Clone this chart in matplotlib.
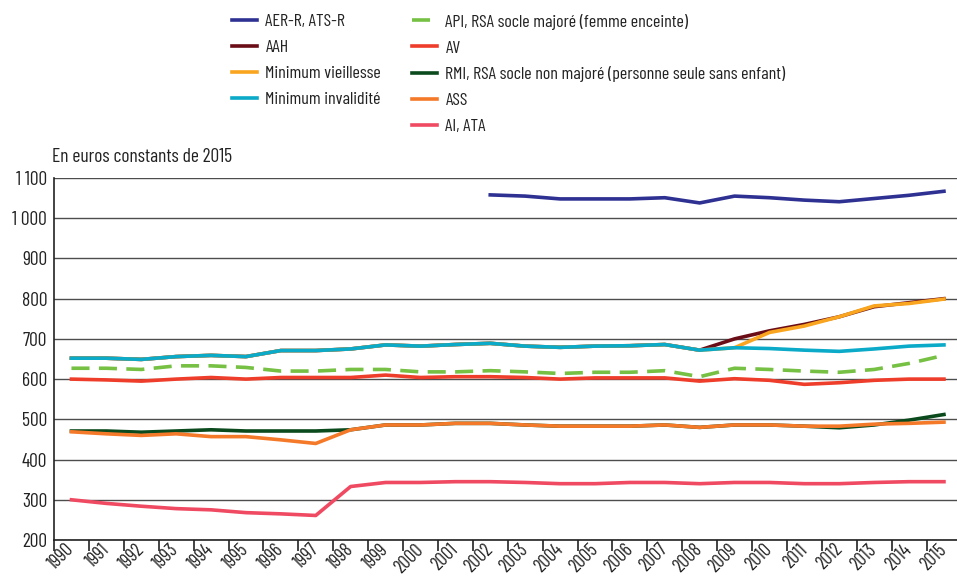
import matplotlib
matplotlib.use('Agg')
import matplotlib.pyplot as plt
from matplotlib.ticker import FixedLocator, FuncFormatter

plt.rcParams['font.family'] = ['Barlow Condensed', 'Roboto Condensed', 'DejaVu Sans']

years = list(range(1990, 2016))
years_aer = list(range(2002, 2016))

aer = [1058, 1055, 1048, 1048, 1048, 1051, 1038, 1055, 1051, 1045, 1041, 1049, 1057, 1067]
min_inv = [652, 652, 649, 656, 659, 656, 671, 671, 675, 685, 682, 686,
           689, 682, 679, 682, 683, 686, 672, 678, 676, 672, 669, 675, 682, 685]
aah = min_inv[:19] + [700, 720, 736, 755, 780, 790, 800]
min_vieil = min_inv[:20] + [716, 732, 755, 782, 788, 799]
api = [627, 627, 624, 633, 633, 629, 620, 620, 624, 624, 618, 618,
       621, 618, 614, 617, 617, 621, 606, 627, 624, 620, 617, 624, 639, 659]
av = [600, 598, 595, 600, 604, 600, 604, 604, 604, 610, 604, 606,
      606, 604, 600, 603, 603, 603, 595, 601, 597, 587, 591, 597, 600, 600]
rmi = [471, 471, 468, 471, 474, 471, 471, 471, 474, 486, 486, 490,
       490, 486, 483, 483, 483, 486, 480, 486, 486, 483, 479, 486, 498, 512]
ass = [469, 464, 460, 464, 457, 457, 449, 440, 474, 486, 486, 490,
       490, 486, 483, 483, 483, 486, 480, 486, 486, 483, 483, 488, 490, 493]
ai = [300, 291, 284, 278, 275, 268, 265, 261, 333, 343, 343, 345,
      345, 343, 340, 340, 343, 343, 340, 343, 343, 340, 340, 343, 345, 345]

fig = plt.figure(figsize=(9.57, 5.77), dpi=100)
ax = fig.add_axes([54 / 957, 1 - 540 / 577, 1 - 54 / 957, (540 - 178) / 577])

xi = list(range(len(years)))
xa = [years.index(y) for y in years_aer]
lw = 2.6
l_aer, = ax.plot(xa, aer, color='#2e3192', lw=lw, label='AER-R, ATS-R')
l_aah, = ax.plot(xi, aah, color='#6b0d16', lw=lw, label='AAH')
l_mv, = ax.plot(xi, min_vieil, color='#f9a51f', lw=lw, label='Minimum vieillesse')
l_mi, = ax.plot(xi, min_inv, color='#0aaac8', lw=lw, label='Minimum invalidité')
l_api, = ax.plot(xi, api, color='#76c043', lw=lw, ls=(0, (5, 2.6)),
                 label='API, RSA socle majoré (femme enceinte)')
l_av, = ax.plot(xi, av, color='#ee3d2a', lw=lw, label='AV')
l_rmi, = ax.plot(xi, rmi, color='#0b4a1c', lw=lw,
                 label='RMI, RSA socle non majoré (personne seule sans enfant)')
l_ass, = ax.plot(xi, ass, color='#f47a2a', lw=lw, label='ASS')
l_ai, = ax.plot(xi, ai, color='#ef4a62', lw=lw, label='AI, ATA')

ax.set_ylim(200, 1100)
ax.set_xlim(-0.5, 903 / 34.9 - 0.5)
ax.set_yticks(range(200, 1101, 100))
ax.yaxis.set_major_formatter(FuncFormatter(lambda v, p: f'{int(v):,}'.replace(',', ' ')))
ax.tick_params(axis='y', length=0, pad=5, labelsize=14, labelcolor='#222222')
ax.grid(axis='y', color='#4d4d4d', lw=1.0)
ax.set_axisbelow(True)

ax.xaxis.set_major_locator(FixedLocator([i - 0.5 for i in range(len(years) + 1)]))
ax.xaxis.set_minor_locator(FixedLocator(xi))
ax.set_xticklabels([], minor=False)
ax.set_xticklabels([str(y) for y in years], minor=True)
ax.tick_params(axis='x', which='major', length=8, width=1.2, color='#222222')
ax.tick_params(axis='x', which='minor', length=0, pad=5, labelsize=13.5, labelcolor='#222222')
for t in ax.get_xticklabels(minor=True):
    t.set_rotation(45)
    t.set_ha('right')
    t.set_va('center')
    t.set_rotation_mode('anchor')

for s in ['top', 'right']:
    ax.spines[s].set_visible(False)
for s in ['left', 'bottom']:
    ax.spines[s].set_color('#222222')
    ax.spines[s].set_linewidth(1.2)

fig.text(52 / 957, 1 - 157 / 577, 'En euros constants de 2015', fontsize=14,
         color='#222222', va='center', ha='left')

# two legend columns placed separately
leg_kw = dict(loc='upper left', frameon=False, fontsize=13, handlelength=1.4,
              handletextpad=0.45, labelspacing=0.58, borderpad=0, borderaxespad=0,
              labelcolor='#222222')
col1 = [l_aer, l_aah, l_mv, l_mi]
col2 = [l_api, l_av, l_rmi, l_ass, l_ai]
leg1 = ax.legend(col1, [h.get_label() for h in col1],
                 bbox_to_anchor=(232 / 957, 1 - 13.5 / 577),
                 bbox_transform=fig.transFigure, **leg_kw)
ax.add_artist(leg1)
ax.legend(col2, [h.get_label() for h in col2],
          bbox_to_anchor=(412 / 957, 1 - 13.5 / 577),
          bbox_transform=fig.transFigure, **leg_kw)

fig.savefig('out.png', dpi=100)
